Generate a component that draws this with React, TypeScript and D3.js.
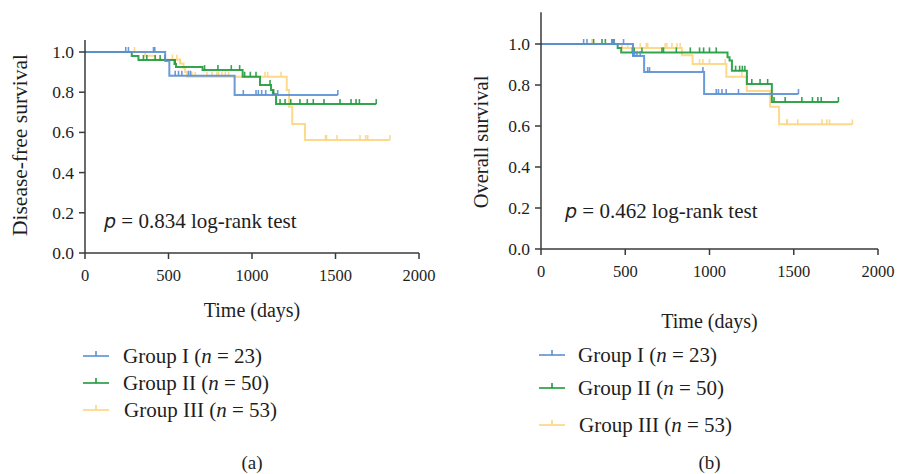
import React from 'react';
import * as d3 from 'd3';

const groupNames = ['Group I', 'Group II', 'Group III'];
const groupN = [23, 50, 53];
const groupColors = ['#5b8fd4', '#1e9a3b', '#fdd57e'];

// Disease-free survival (panel a)
const dfsG1Times = [0, 480, 505, 896];
const dfsG1Surv = [1, 0.955, 0.882, 0.786];
const dfsG1End = 1514;
const dfsG1Censor = [244, 260, 410, 418, 540, 560, 580, 620, 632, 948, 1024, 1038, 1058, 1082, 1154, 1514];

const dfsG2Times = [0, 280, 320, 536, 545, 704, 944, 1048, 1114, 1125, 1144];
const dfsG2Surv = [1, 0.98, 0.96, 0.94, 0.925, 0.91, 0.877, 0.836, 0.811, 0.79, 0.741];
const dfsG2End = 1744;
const dfsG2Censor = [350, 370, 420, 450, 480, 540, 716, 796, 876, 926, 956, 990, 1024, 1108, 1130, 1168, 1198, 1232, 1287, 1331, 1367, 1431, 1527, 1593, 1623, 1643, 1744];

const dfsG3Times = [0, 360, 420, 570, 590, 600, 610, 1208, 1222, 1241, 1317];
const dfsG3Surv = [1, 0.981, 0.962, 0.943, 0.922, 0.9, 0.877, 0.811, 0.728, 0.642, 0.562];
const dfsG3End = 1826;
const dfsG3Censor = [296, 480, 524, 550, 570, 640, 660, 730, 760, 790, 800, 820, 840, 860, 1078, 1094, 1174, 1440, 1446, 1509, 1647, 1681, 1693, 1826];

// Overall survival (panel b)
const osG1Times = [0, 546, 612, 968];
const osG1Surv = [1, 0.941, 0.863, 0.756];
const osG1End = 1528;
const osG1Censor = [253, 273, 427, 435, 490, 546, 555, 569, 589, 633, 644, 961, 1040, 1053, 1074, 1099, 1172, 1528];

const osG2Times = [0, 455, 476, 1107, 1119, 1133, 1222, 1370];
const osG2Surv = [1, 0.98, 0.959, 0.935, 0.919, 0.87, 0.805, 0.717];
const osG2End = 1765;
const osG2Censor = [312, 362, 382, 421, 431, 542, 553, 599, 718, 727, 803, 886, 941, 965, 1000, 1040, 1155, 1179, 1195, 1210, 1251, 1300, 1345, 1383, 1449, 1548, 1611, 1643, 1663, 1765];

const osG3Times = [0, 480, 836, 900, 1100, 1221, 1360, 1413];
const osG3Surv = [1, 0.981, 0.945, 0.903, 0.84, 0.771, 0.694, 0.608];
const osG3End = 1848;
const osG3Censor = [302, 312, 514, 546, 589, 625, 633, 737, 747, 777, 807, 826, 941, 961, 1000, 1093, 1192, 1459, 1462, 1524, 1667, 1696, 1712, 1848];

const xTicks = [0, 500, 1000, 1500, 2000];
const yTicks = [0, 0.2, 0.4, 0.6, 0.8, 1.0];

const FONT = '"Liberation Serif", "DejaVu Serif", serif';
const AXIS = '#3a3a3a';
const TEXT = '#1e1e1e';

type Curve = { times: number[]; surv: number[]; end: number; censor: number[] };

const dfsCurves: Curve[] = [
  { times: dfsG1Times, surv: dfsG1Surv, end: dfsG1End, censor: dfsG1Censor },
  { times: dfsG2Times, surv: dfsG2Surv, end: dfsG2End, censor: dfsG2Censor },
  { times: dfsG3Times, surv: dfsG3Surv, end: dfsG3End, censor: dfsG3Censor },
];
const osCurves: Curve[] = [
  { times: osG1Times, surv: osG1Surv, end: osG1End, censor: osG1Censor },
  { times: osG2Times, surv: osG2Surv, end: osG2End, censor: osG2Censor },
  { times: osG3Times, surv: osG3Surv, end: osG3End, censor: osG3Censor },
];

function survAt(c: Curve, t: number) {
  let s = 1;
  c.times.forEach((tt, i) => {
    if (tt <= t) s = c.surv[i];
  });
  return s;
}

type PanelProps = {
  curves: Curve[];
  left: number;
  right: number;
  bottom: number;
  top: number; // pixel of y = 1.0
  yMaxAxis: number;
  yTitle: string;
  yTitleX: number;
  yTitleY: number;
  yTitleSize: number;
  pValue: string;
  pY: number;
  pX: number;
  xTitleY: number;
  legendRows: number[];
  legendText: number;
  caption: string;
};

function Panel(p: PanelProps) {
  const x = d3.scaleLinear().domain([0, 2000]).range([p.left, p.right]);
  const y = d3.scaleLinear().domain([0, 1]).range([p.bottom, p.top]);
  const line = d3
    .line<[number, number]>()
    .x((d) => x(d[0]))
    .y((d) => y(d[1]))
    .curve(d3.curveStepAfter);

  const order = [2, 1, 0];
  const cx = (p.left + p.right) / 2;

  return (
    <g>
      {/* curves */}
      {order.map((gi) => {
        const c = p.curves[gi];
        const pts: [number, number][] = c.times.map((t, i) => [t, c.surv[i]]);
        pts.push([c.end, c.surv[c.surv.length - 1]]);
        return (
          <g key={gi} stroke={groupColors[gi]} strokeOpacity={0.9} fill="none">
            <path d={line(pts) || ''} strokeWidth={2} />
            {c.censor.map((t, k) => {
              const s = survAt(c, t);
              return (
                <line key={k} x1={x(t)} x2={x(t)} y1={y(s)} y2={y(s) - 5} strokeWidth={1.6} />
              );
            })}
          </g>
        );
      })}

      {/* y axis */}
      <line x1={p.left} x2={p.left} y1={y(0)} y2={y(p.yMaxAxis)} stroke={AXIS} strokeWidth={1.5} />
      {yTicks.map((t) => (
        <g key={t}>
          <line x1={p.left - 6} x2={p.left} y1={y(t)} y2={y(t)} stroke={AXIS} strokeWidth={1.5} />
          <text x={p.left - 11} y={y(t) + 6} textAnchor="end" fontSize={17.5} fontFamily={FONT} fill={TEXT}>
            {d3.format('.1f')(t)}
          </text>
        </g>
      ))}
      {/* x axis */}
      <line x1={x(0)} x2={x(2000)} y1={y(0)} y2={y(0)} stroke={AXIS} strokeWidth={1.5} />
      {xTicks.map((t) => (
        <g key={t}>
          <line x1={x(t)} x2={x(t)} y1={y(0)} y2={y(0) + 6} stroke={AXIS} strokeWidth={1.5} />
          <text x={x(t)} y={y(0) + 28} textAnchor="middle" fontSize={16.5} fontFamily={FONT} fill={TEXT}>
            {t}
          </text>
        </g>
      ))}
      <text
        transform={`translate(${p.yTitleX},${p.yTitleY}) rotate(-90)`}
        textAnchor="middle"
        fontSize={p.yTitleSize}
        fontFamily={FONT}
        fill={TEXT}
      >
        {p.yTitle}
      </text>
      <text x={cx} y={p.xTitleY} textAnchor="middle" fontSize={20} fontFamily={FONT} fill={TEXT}>
        Time (days)
      </text>
      <text x={p.pX} y={p.pY} fontSize={21} fontFamily={FONT} fill={TEXT}>
        <tspan fontStyle="italic" fontFamily='"DejaVu Sans", sans-serif' fontSize={19}>p</tspan>
        {` = ${p.pValue} log-rank test`}
      </text>

      {/* legend */}
      {p.legendRows.map((ry, gi) => (
        <g key={gi}>
          <line x1={p.left - 2} x2={p.left + 24} y1={ry} y2={ry} stroke={groupColors[gi]} strokeWidth={1.6} />
          <line x1={p.left + 11} x2={p.left + 11} y1={ry} y2={ry - 5} stroke={groupColors[gi]} strokeWidth={1.6} />
          <text x={p.legendText + (gi === 2 ? 1 : 0)} y={ry + 7} fontSize={21} fontFamily={FONT} fill={TEXT}>
            {`${groupNames[gi]} (`}
            <tspan fontStyle="italic">n</tspan>
            {` = ${groupN[gi]})`}
          </text>
        </g>
      ))}
      <text x={cx} y={469} textAnchor="middle" fontSize={19} fontFamily={FONT} fill={TEXT}>
        {p.caption}
      </text>
    </g>
  );
}

export default function App() {
  return (
    <svg
      width={899}
      height={474}
      viewBox="0 0 899 474"
      style={{ position: 'absolute', left: 0, top: 0, background: '#fff' }}
    >
      <rect width={899} height={474} fill="#fff" />
      <Panel
        curves={dfsCurves}
        left={85}
        right={419}
        bottom={253}
        top={52}
        yMaxAxis={1.06}
        yTitle="Disease-free survival"
        yTitleX={27}
        yTitleY={145}
        yTitleSize={21.5}
        pValue="0.834"
        pX={104}
        pY={228}
        xTitleY={317}
        legendRows={[356, 383, 410]}
        legendText={123}
        caption="(a)"
      />
      <Panel
        curves={osCurves}
        left={541}
        right={878}
        bottom={249}
        top={44}
        yMaxAxis={1.155}
        yTitle="Overall survival"
        yTitleX={488}
        yTitleY={142}
        yTitleSize={20.5}
        pValue="0.462"
        pX={565}
        pY={218}
        xTitleY={328}
        legendRows={[355, 388, 425]}
        legendText={578}
        caption="(b)"
      />
    </svg>
  );
}
